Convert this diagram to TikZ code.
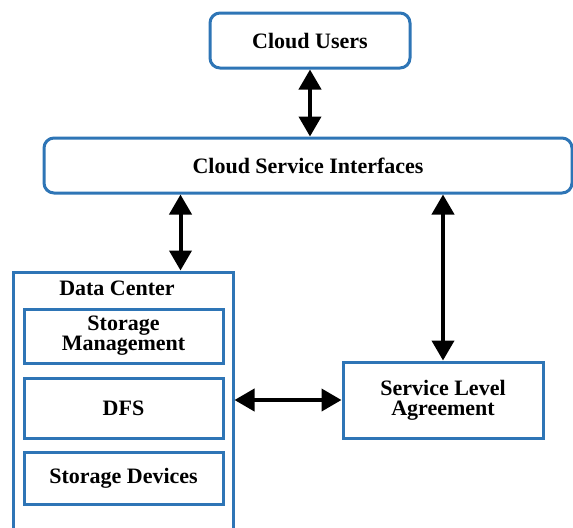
\documentclass[tikz,border=0pt]{standalone}
\usepackage{fontspec}
\setmainfont{Liberation Serif}
\usetikzlibrary{arrows.meta,positioning}
\definecolor{boxblue}{RGB}{46,117,182}

\begin{document}
\begin{tikzpicture}[x=0.5pt,y=-0.5pt,
    font=\bfseries\fontsize{11}{10}\selectfont,
    roundbox/.style={draw=boxblue,line width=1.5pt,rounded corners=5pt,align=center,inner sep=0pt},
    plainbox/.style={draw=boxblue,line width=1.5pt,align=center,inner sep=0pt},
    biarrow/.style={line width=2pt,{Triangle[length=10pt,width=11pt]}-{Triangle[length=10pt,width=11pt]}}]
    \clip (0,0) rectangle (573,527);

    % top boxes
    \node[roundbox,minimum width=100pt,minimum height=27.5pt] (cusers) at (310,40.5) {Cloud Users};
    \node[roundbox,minimum width=264pt,minimum height=27.5pt] (csi) at (308,165.5) {Cloud Service Interfaces};

    % data center
    \node[plainbox,minimum width=110pt,minimum height=135pt] (dc) at (123,407) {};
    \node (dclabel) at (117,288) {Data Center};
    \node[plainbox,minimum width=99.5pt,minimum height=27pt] (sm) at (123.5,336) {Storage\\Management};
    \node[plainbox,minimum width=99.5pt,minimum height=30pt] (dfs) at (123.5,408) {DFS};
    \node[plainbox,minimum width=99.5pt,minimum height=26pt] (sd) at (123.5,478) {Storage Devices};

    \node[plainbox,minimum width=100pt,minimum height=38pt] (sla) at (443,400) {Service Level\\Agreement};

    % connectors
    \coordinate (dctop) at ([xshift=-27pt]dc.north east);
    \draw[biarrow] (cusers.south) -- (cusers.south |- csi.north);
    \draw[biarrow] (csi.south -| dctop) -- (dctop);
    \draw[biarrow] (csi.south -| sla.north) -- (sla.north);
    \draw[biarrow] (dc.east |- sla.west) -- (sla.west);
\end{tikzpicture}
\end{document}
